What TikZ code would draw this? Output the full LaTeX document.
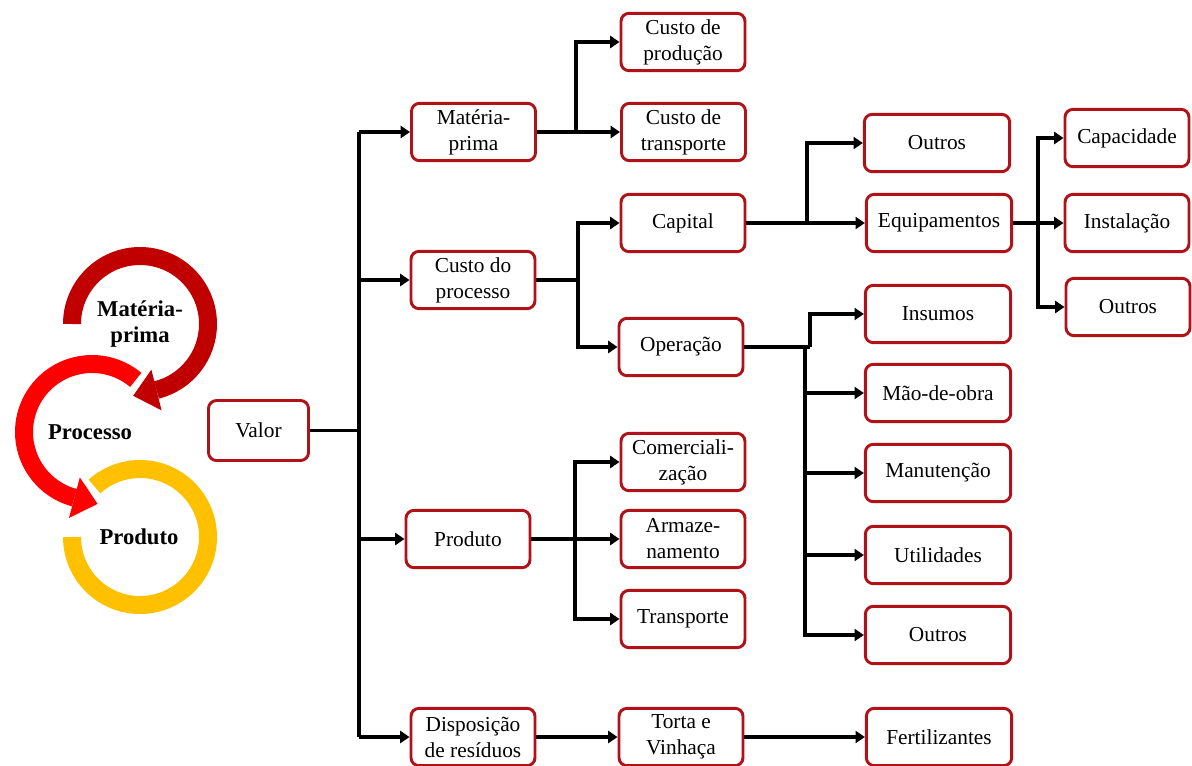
\documentclass[tikz,border=0pt]{standalone}
\usepackage{fontspec}
\setmainfont{Liberation Serif}
\usetikzlibrary{arrows.meta,calc}
\definecolor{boxred}{RGB}{176,18,24}
\definecolor{arcdark}{RGB}{192,0,0}
\definecolor{arcred}{RGB}{255,0,0}
\definecolor{arcgold}{RGB}{255,192,0}
\begin{document}
\begin{tikzpicture}[x=0.75pt,y=-0.75pt,
  box/.style={draw=boxred, line width=2.2pt, rounded corners=6pt, fill=white,
    align=center, font=\fontsize{16}{19.5}\selectfont, inner sep=2pt,
    minimum width=93pt, minimum height=43pt},
  wide/.style={box, minimum width=109pt},
  link/.style={line width=2.6pt, draw=black},
  arr/.style={link, -{Triangle[length=7pt,width=9pt]}},
  band/.style={line width=13.5pt},
  cyc/.style={font=\bfseries\fontsize{17}{19.5}\selectfont, align=center},
]
\useasboundingbox (0,0) rectangle (1192,765);

% ---- cycle of three arcs ----
\coordinate (c1) at (140,324);
\coordinate (c2) at (92,432);
\coordinate (c3) at (140,537);

\draw[band, arcgold] (c3) ++(180:68) arc[start angle=180, end angle=-132, radius=68];
\draw[band, arcred] (c2) ++(310:68) arc[start angle=310, end angle=105, radius=68];
\fill[arcred] ($(c2)+(105:89)$) -- ($(c2)+(105:47)$) -- ($(c2)+(105:68)+(15:24)$) -- cycle;
\draw[band, arcdark] (c1) ++(180:68) arc[start angle=180, end angle=436, radius=68];
\fill[arcdark] ($(c1)+(436:89)$) -- ($(c1)+(436:47)$) -- ($(c1)+(436:68)+(526:24)$) -- cycle;

\node[cyc] (tmp) at (140,324) {Matéria-\\prima};
\node[cyc] (tpr) at (90,432) {Processo};
\node[cyc] (tpd) at (139,537) {Produto};

% ---- tree of boxes ----
\node[box, minimum width=75pt, minimum height=45pt] (valor) at (258.5,430.5) {Valor};

\node[box] (mp)   at (473.5,132) {Matéria-\\prima};
\node[box] (cp)   at (473,280)   {Custo do\\processo};
\node[box] (prod) at (468,539)   {Produto};
\node[box] (disp) at (473,737)   {Disposição\\de resíduos};

\node[box] (cprod)  at (683,42)    {Custo de\\produção};
\node[box] (ctrans) at (683.5,132) {Custo de\\transporte};
\node[box] (cap)    at (683,223)   {Capital};
\node[box] (op)     at (681,347)   {Operação};
\node[box] (com)    at (683,462)   {Comerciali-\\zação};
\node[box] (arm)    at (683,539)   {Armaze-\\namento};
\node[box] (transp) at (683,619)   {Transporte};
\node[box] (torta)  at (681,737)   {Torta e\\Vinhaça};

\node[wide] (out1)  at (937,143) {Outros};
\node[wide] (equip) at (939,223) {Equipamentos};
\node[wide] (ins)   at (938,314) {Insumos};
\node[wide] (mao)   at (938,393) {Mão-de-obra};
\node[wide] (man)   at (938,473) {Manutenção};
\node[wide] (util)  at (938,555) {Utilidades};
\node[wide] (out2)  at (938,635) {Outros};
\node[wide] (fert)  at (939,737) {Fertilizantes};

\node[box] (capac) at (1127,138) {Capacidade};
\node[box] (inst)  at (1127,223) {Instalação};
\node[box] (out3)  at (1128,307) {Outros};

% ---- bus lines ----
\coordinate (bv)   at (359,0);
\coordinate (bm)   at (576,0);
\coordinate (bc)   at (578,0);
\coordinate (bp)   at (575,0);
\coordinate (bcap) at (807,0);
\coordinate (bop)  at (805,0);
\coordinate (bop2) at (810,0);
\coordinate (beq)  at (1038,0);

\draw[link] (valor.east) -- (valor.east -| bv);
\draw[link] (bv |- mp.west) -- (bv |- disp.west);
\foreach \n in {mp,cp,prod,disp} \draw[arr] (bv |- \n.west) -- (\n.west);

\draw[arr] (mp.east) -- (ctrans.west);
\draw[arr] (mp.east -| bm) |- (cprod.west);

\draw[link] (cp.east) -- (cp.east -| bc);
\draw[arr] (cp.east -| bc) |- (cap.west);
\draw[arr] (cp.east -| bc) |- (op.west);

\draw[arr] (prod.east) -- (arm.west);
\draw[arr] (prod.east -| bp) |- (com.west);
\draw[arr] (prod.east -| bp) |- (transp.west);

\draw[arr] (disp.east) -- (torta.west);
\draw[arr] (torta.east) -- (fert.west);

\draw[arr] (cap.east) -- (equip.west);
\draw[arr] (cap.east -| bcap) |- (out1.west);

\draw[link] (op.east) -- (op.east -| bop2);
\draw[arr] (op.east -| bop2) |- (ins.west);
\foreach \n in {mao,man,util,out2} \draw[arr] (op.east -| bop) |- (\n.west);

\draw[arr] (equip.east) -- (inst.west);
\draw[arr] (equip.east -| beq) |- (capac.west);
\draw[arr] (equip.east -| beq) |- (out3.west);
\end{tikzpicture}
\end{document}
